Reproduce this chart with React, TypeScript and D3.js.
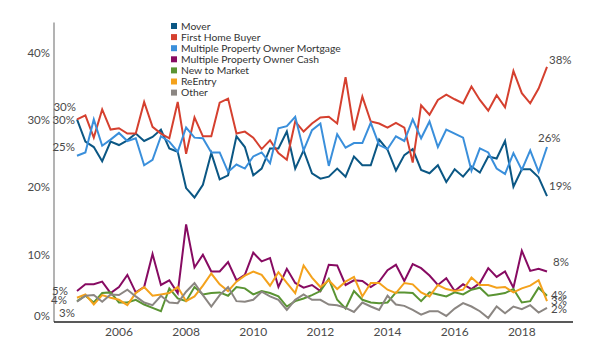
import React from "react";
import * as d3 from "d3";

const W = 600;
const H = 363;

// Quarterly data, Q4 2004 .. Q4 2018
const startYear = 2004.75;
const quarterStep = 0.25;

const series = [
  "Mover",
  "First Home Buyer",
  "Multiple Property Owner Mortgage",
  "Multiple Property Owner Cash",
  "New to Market",
  "ReEntry",
  "Other",
];

const mover = [
  30.1, 26.8, 26.0, 23.9, 26.8, 26.3, 27.0, 28.0, 26.9, 27.5, 28.6, 25.8, 25.3, 19.9, 18.5, 20.4, 25.1, 21.2, 21.8, 27.6,
  26.0, 21.8, 22.8, 25.8, 25.8, 28.3, 22.8, 25.5, 22.1, 21.3, 21.6, 22.8, 21.6, 24.6, 23.3, 23.3, 27.1, 25.6, 22.5,
  24.8, 25.7, 22.6, 22.1, 23.3, 20.8, 22.7, 21.6, 23.1, 22.2, 24.6, 24.3, 26.9, 20.1, 22.7, 22.7, 21.5, 18.7,
];
const firstHomeBuyer = [
  30.1, 30.7, 27.4, 31.6, 28.6, 28.8, 28.0, 28.0, 32.7, 29.0, 28.0, 27.3, 32.7, 25.0, 30.4, 27.6, 27.6, 32.6, 33.2, 28.0,
  28.3, 27.4, 25.7, 27.0, 25.1, 24.1, 29.8, 28.3, 29.5, 30.4, 30.5, 29.5, 36.4, 28.5, 33.5, 29.8, 29.5, 28.9, 29.6,
  28.9, 23.7, 32.2, 30.8, 33.0, 33.8, 33.1, 32.5, 35.0, 33.0, 31.4, 33.7, 31.9, 37.3, 34.0, 32.5, 34.7, 37.9,
];
const mpoMortgage = [
  24.7, 25.2, 30.1, 26.2, 27.1, 28.1, 26.9, 27.3, 23.3, 24.1, 27.6, 26.8, 25.3, 28.9, 27.4, 27.3, 25.2, 25.2, 22.3, 23.4,
  22.8, 24.6, 25.2, 23.6, 28.8, 29.1, 30.5, 25.5, 28.5, 29.5, 23.2, 27.9, 25.9, 26.6, 26.6, 29.6, 26.3, 25.7, 27.6,
  26.9, 30.1, 27.3, 29.8, 26.0, 28.6, 28.0, 27.4, 22.5, 25.8, 25.2, 22.8, 22.0, 25.1, 22.6, 25.5, 22.3, 26.0,
];
const mpoCash = [
  4.6, 5.6, 5.6, 6.0, 4.3, 5.2, 7.0, 4.4, 5.2, 10.1, 5.5, 6.2, 4.3, 14.5, 8.1, 10.0, 7.5, 7.5, 8.9, 6.2,
  7.0, 10.3, 9.0, 9.5, 5.2, 7.9, 5.8, 5.1, 5.5, 4.6, 8.5, 8.4, 5.5, 6.2, 6.1, 5.2, 6.0, 7.7, 8.5,
  6.1, 8.6, 8.0, 6.9, 5.5, 6.5, 4.6, 5.6, 4.9, 5.8, 8.0, 6.7, 7.5, 5.1, 10.6, 7.6, 7.9, 7.5,
];
const newToMarket = [
  3.1, 3.9, 2.9, 4.3, 4.4, 2.9, 2.9, 3.3, 2.6, 2.1, 1.6, 5.0, 3.5, 3.1, 5.2, 4.1, 4.3, 4.4, 3.9, 5.2,
  5.0, 4.1, 4.6, 4.3, 3.8, 2.3, 3.1, 3.5, 4.0, 4.6, 6.4, 3.3, 2.0, 4.6, 3.3, 2.9, 2.8, 2.9, 4.4,
  4.4, 4.3, 3.1, 4.4, 4.1, 3.8, 4.4, 4.1, 4.8, 5.1, 3.9, 4.1, 4.3, 4.9, 2.9, 3.1, 5.1, 3.9,
];
const reEntry = [
  3.6, 4.1, 2.6, 4.0, 3.6, 3.3, 2.5, 4.3, 5.2, 3.9, 4.1, 4.3, 5.2, 3.1, 3.8, 5.4, 7.2, 5.6, 4.6, 6.0,
  6.9, 7.5, 7.0, 5.4, 7.4, 5.8, 4.3, 8.4, 6.6, 5.2, 6.2, 4.9, 6.0, 6.7, 3.8, 5.8, 5.8, 4.8, 4.3,
  5.8, 5.6, 4.4, 3.8, 5.5, 4.9, 4.6, 4.8, 6.6, 5.5, 5.5, 5.1, 5.2, 4.4, 5.0, 5.4, 6.2, 3.1,
];
const other = [
  3.0, 3.9, 4.0, 3.0, 4.1, 4.0, 4.8, 3.8, 2.9, 2.5, 3.9, 2.9, 2.8, 4.5, 5.8, 4.0, 2.3, 4.0, 5.2, 3.1,
  3.0, 3.3, 4.5, 3.8, 3.3, 1.8, 3.3, 4.1, 3.3, 3.3, 2.6, 2.5, 2.1, 1.5, 2.9, 2.3, 1.8, 3.9, 2.6,
  2.4, 1.8, 1.1, 1.6, 1.6, 0.9, 2.0, 2.8, 2.3, 1.6, 0.6, 2.3, 1.3, 2.3, 1.9, 2.5, 1.4, 2.1,
];

const values = [mover, firstHomeBuyer, mpoMortgage, mpoCash, newToMarket, reEntry, other];

const yTicks = [0, 10, 20, 30, 40];
const xTicks = [2006, 2008, 2010, 2012, 2014, 2016, 2018];

// styling
const colors = ["#0b5784", "#d5402f", "#3a8fdb", "#870b62", "#5a9433", "#f4a21c", "#8b8682"];
// label offsets (style): [dx, dy] for start / end labels; null = no label
const startLabelOffsets: ([number, number] | null)[] = [
  [-2, 1], [-1, -12], [-2, -9], [-9, 0], null, [-10, 2], [-2, 11],
];
const endLabelOffsets: ([number, number] | null)[] = [
  [2, -10], [2, -7], [-9, -9], [6, -10], [4, -1], [4, 0], [4, 1],
];

export default function App() {
  const x = d3.scaleLinear().domain([startYear, 2018.75]).range([77, 547]);
  const y = d3.scaleLinear().domain([0, 45]).range([322, 19.2]);
  const xOf = (i: number) => x(startYear + i * quarterStep);
  const line = d3
    .line<number>()
    .x((_, i) => xOf(i))
    .y((d) => y(d));

  const font = "Lato, 'Open Sans', sans-serif";
  const textColor = "#4a4a4a";

  return (
    <svg
      width={W}
      height={H}
      style={{ position: "absolute", left: 0, top: 0, background: "#fff" }}
      fontFamily={font}
    >
      {/* axes */}
      <line x1={54} x2={54} y1={y(44.5)} y2={y(0)} stroke="#9a9a9a" strokeWidth={1.5} />
      <line x1={54} x2={573} y1={y(0)} y2={y(0)} stroke="#222" strokeWidth={1.5} />
      {yTicks.map((t) => (
        <text
          key={t}
          x={50}
          y={Math.min(y(t), y(0) - 6)}
          dy="0.35em"
          textAnchor="end"
          fontSize={11.5}
          fill={textColor}
        >
          {t}%
        </text>
      ))}
      {xTicks.map((t) => (
        <text key={t} x={x(t)} y={332} dy="0.35em" textAnchor="middle" fontSize={12} fill={textColor}>
          {t}
        </text>
      ))}

      {/* lines */}
      {values.map((vals, k) => (
        <path
          key={series[k]}
          d={line(vals) || ""}
          fill="none"
          stroke={colors[k]}
          strokeWidth={2}
          strokeLinejoin="miter"
        />
      ))}

      {/* start labels */}
      {values.map((vals, k) => {
        const o = startLabelOffsets[k];
        if (!o) return null;
        return (
          <text
            key={"s" + k}
            x={xOf(0) + o[0]}
            y={y(vals[0]) + o[1]}
            dy="0.35em"
            textAnchor="end"
            fontSize={11.5}
            fill={textColor}
          >
            {Math.round(vals[0])}%
          </text>
        );
      })}
      {/* end labels */}
      {values.map((vals, k) => {
        const o = endLabelOffsets[k];
        if (!o) return null;
        const last = vals.length - 1;
        return (
          <text
            key={"e" + k}
            x={xOf(last) + o[0]}
            y={y(vals[last]) + o[1]}
            dy="0.35em"
            textAnchor="start"
            fontSize={11.5}
            fill={textColor}
          >
            {Math.round(vals[last])}%
          </text>
        );
      })}

      {/* legend */}
      {series.map((s, k) => (
        <g key={s} transform={`translate(171, ${26 + k * 11.1})`}>
          <rect x={0} y={-3} width={6} height={6} fill={colors[k]} />
          <text x={10} y={0} dy="0.35em" fontSize={10.3} fill="#333">
            {s}
          </text>
        </g>
      ))}
    </svg>
  );
}
